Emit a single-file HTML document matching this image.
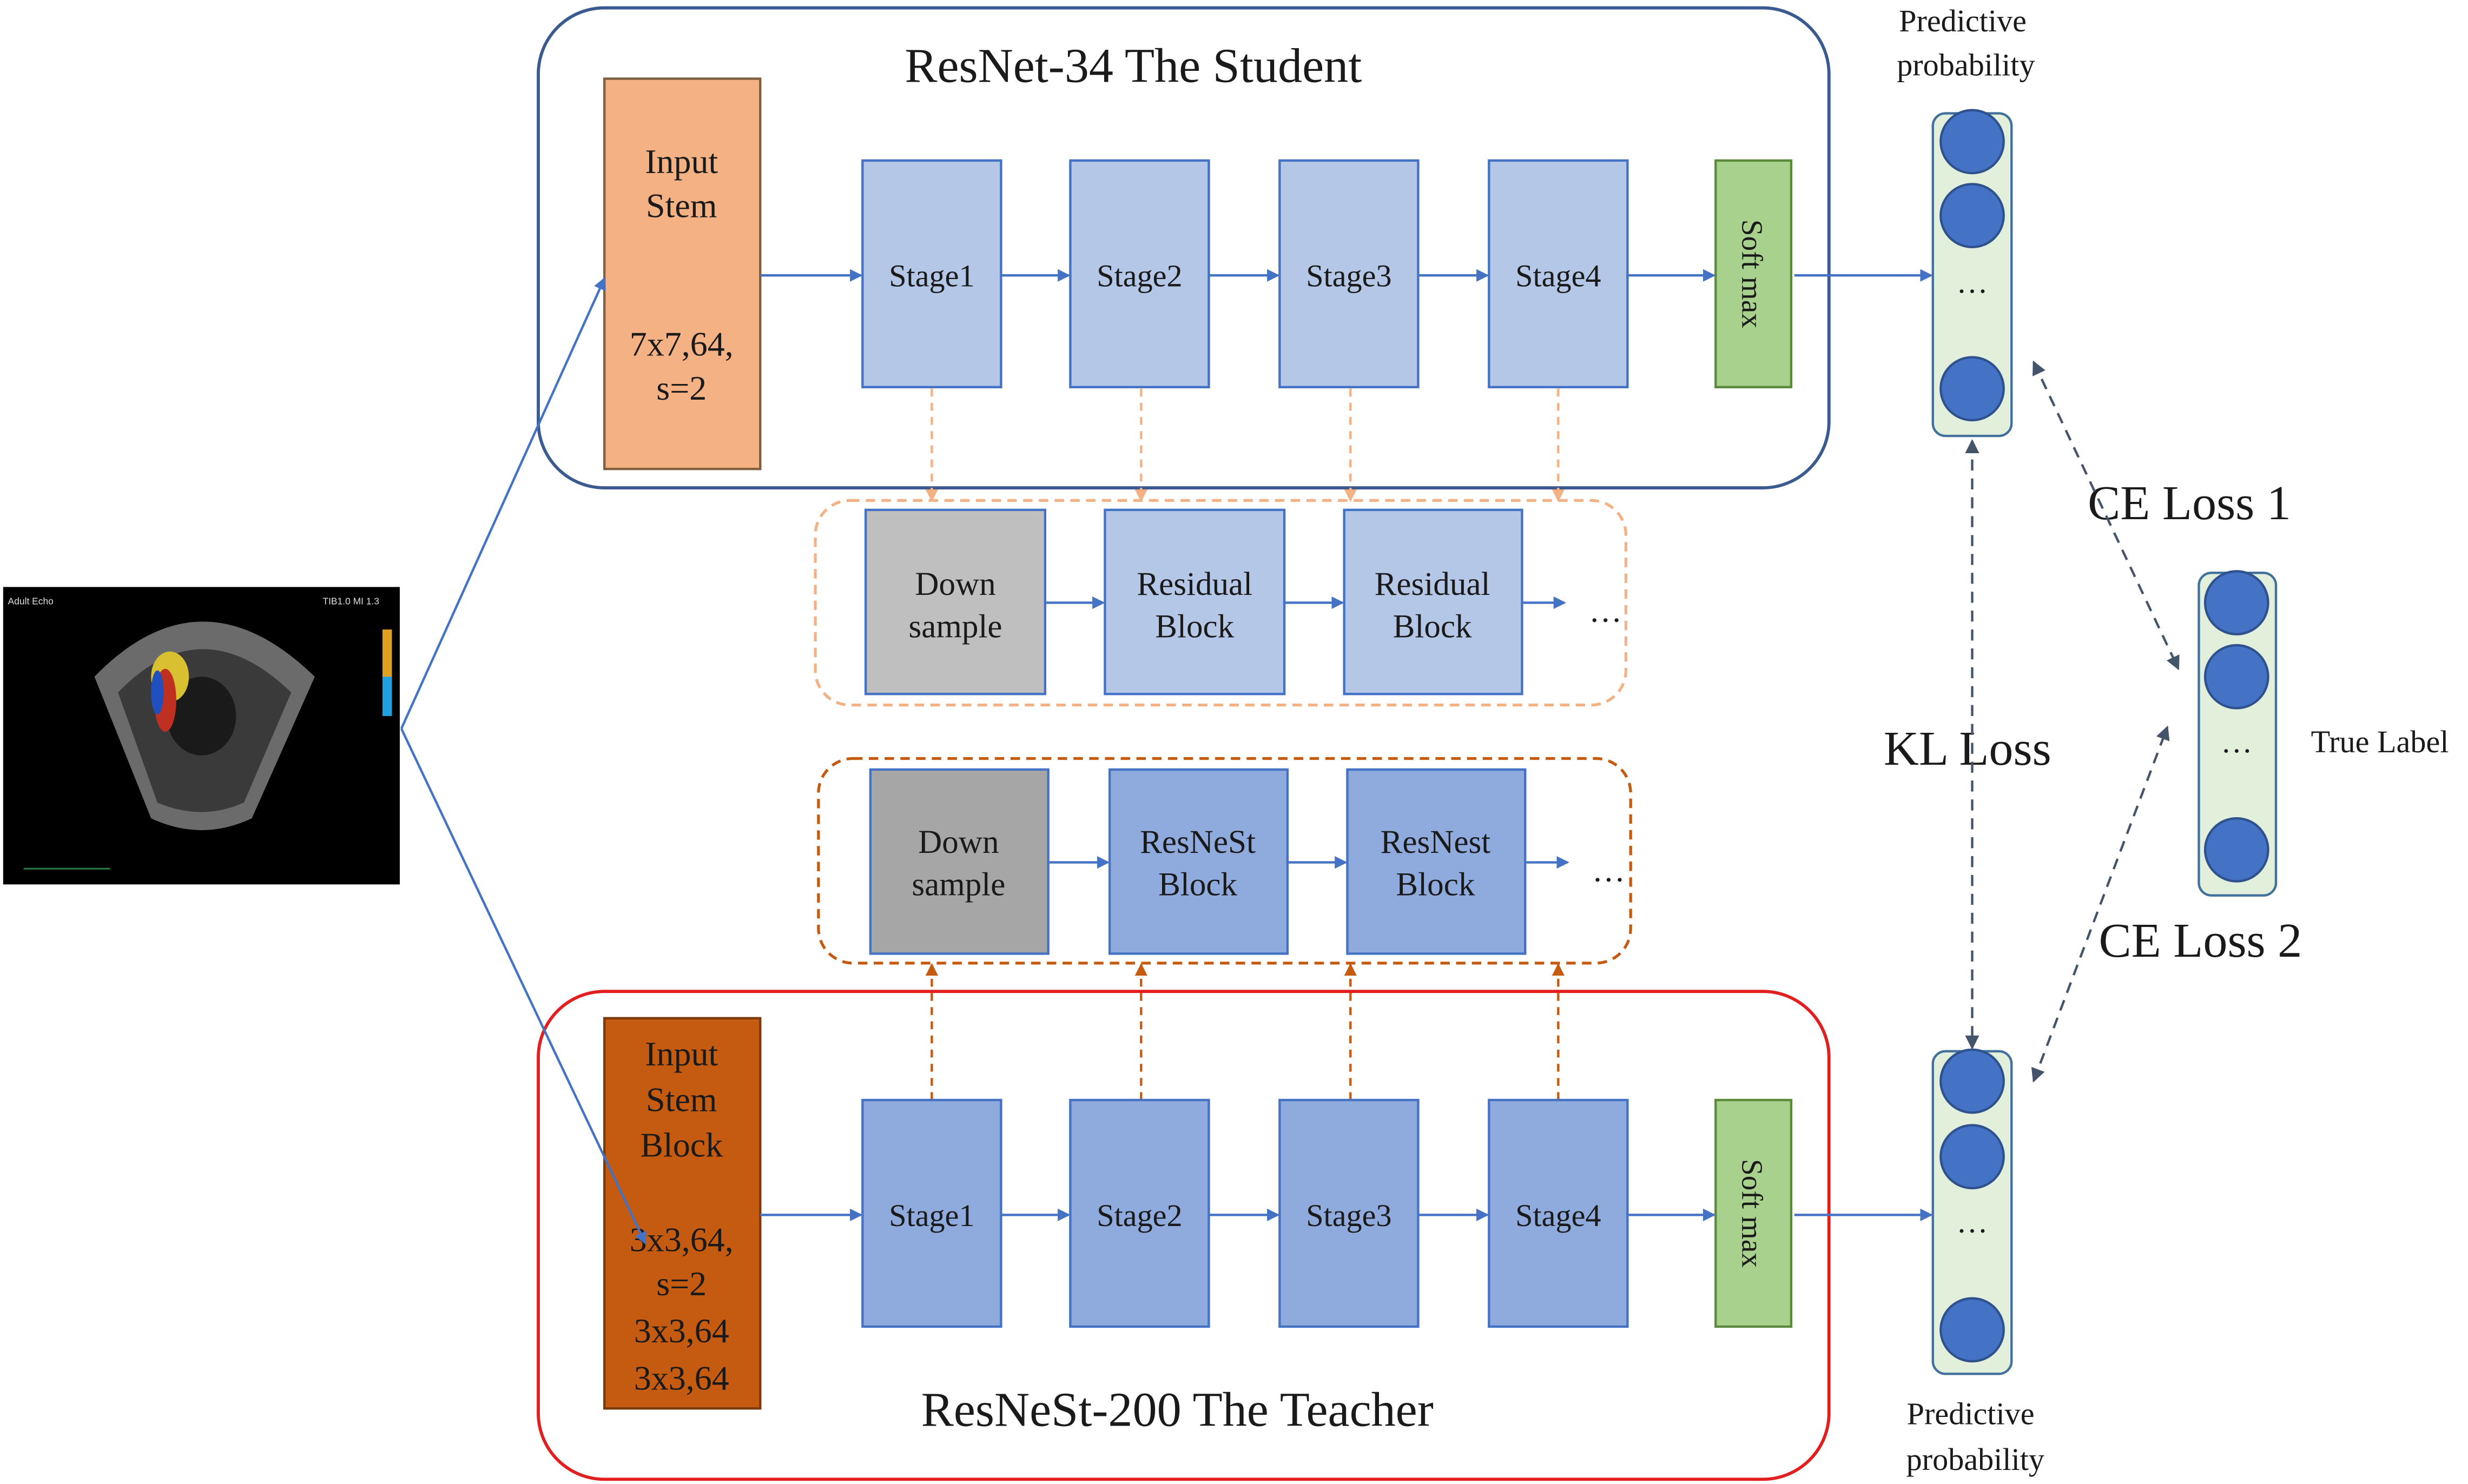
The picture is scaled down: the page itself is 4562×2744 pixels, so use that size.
<!DOCTYPE html>
<html><head><meta charset="utf-8"><style>
html,body{margin:0;padding:0;background:#fff;}
svg{display:block;}
text{font-family:"Liberation Serif",serif;fill:#1a1a1a;}
</style></head><body>
<svg width="4562" height="2744" viewBox="0 0 1568 943" preserveAspectRatio="none" xmlns="http://www.w3.org/2000/svg">
<defs>
<marker id="ab" markerWidth="8" markerHeight="8" refX="7" refY="4" orient="auto" markerUnits="userSpaceOnUse"><path d="M0,0 L8,4 L0,8 z" fill="#4472c4"/></marker>
<marker id="ao" markerWidth="8" markerHeight="8" refX="7" refY="4" orient="auto" markerUnits="userSpaceOnUse"><path d="M0,0 L8,4 L0,8 z" fill="#f4b183"/></marker>
<marker id="ad" markerWidth="8" markerHeight="8" refX="7" refY="4" orient="auto" markerUnits="userSpaceOnUse"><path d="M0,0 L8,4 L0,8 z" fill="#c55a11"/></marker>
<marker id="ag" markerWidth="9" markerHeight="9" refX="8" refY="4.5" orient="auto-start-reverse" markerUnits="userSpaceOnUse"><path d="M0,0 L9,4.5 L0,9 z" fill="#44546a"/></marker>
</defs>

<rect x="342" y="5" width="820" height="305" rx="42" fill="none" stroke="#3b5a8f" stroke-width="2"/>
<text x="720" y="52" font-size="31" text-anchor="middle">ResNet-34 The Student</text>
<rect x="384" y="50" width="99" height="248" fill="#f4b183" stroke="#7f5f3f" stroke-width="1.5"/>
<g font-size="22" text-anchor="middle">
<text x="433" y="110">Input</text><text x="433" y="138">Stem</text>
<text x="433" y="226">7x7,64,</text><text x="433" y="254">s=2</text>
</g>
<g fill="#b4c7e7" stroke="#4472c4" stroke-width="1.5">
<rect x="548" y="102" width="88" height="144"/><rect x="680" y="102" width="88" height="144"/>
<rect x="813" y="102" width="88" height="144"/><rect x="946" y="102" width="88" height="144"/>
</g>
<rect x="1090" y="102" width="48" height="144" fill="#a9d18e" stroke="#5b8a3c" stroke-width="1.5"/>
<g font-size="20" text-anchor="middle">
<text x="592" y="182">Stage1</text><text x="724" y="182">Stage2</text><text x="857" y="182">Stage3</text><text x="990" y="182">Stage4</text>
</g>
<text transform="translate(1107,174) rotate(90)" font-size="19" text-anchor="middle">Soft max</text>
<g stroke="#4472c4" stroke-width="1.5" marker-end="url(#ab)">
<line x1="483" y1="175" x2="547" y2="175"/><line x1="636" y1="175" x2="679" y2="175"/>
<line x1="768" y1="175" x2="812" y2="175"/><line x1="901" y1="175" x2="945" y2="175"/>
<line x1="1034" y1="175" x2="1089" y2="175"/><line x1="1140" y1="175" x2="1227" y2="175"/>
</g>
<g stroke="#f4b183" stroke-width="1.5" stroke-dasharray="5,4" marker-end="url(#ao)">
<line x1="592" y1="247" x2="592" y2="318"/><line x1="725" y1="247" x2="725" y2="318"/>
<line x1="858" y1="247" x2="858" y2="318"/><line x1="990" y1="247" x2="990" y2="318"/>
</g>
<rect x="518" y="318" width="515" height="130" rx="22" fill="none" stroke="#f4b183" stroke-width="1.8" stroke-dasharray="6,4"/>
<rect x="550" y="324" width="114" height="117" fill="#bfbfbf" stroke="#4472c4" stroke-width="1.5"/>
<rect x="702" y="324" width="114" height="117" fill="#b4c7e7" stroke="#4472c4" stroke-width="1.5"/>
<rect x="854" y="324" width="113" height="117" fill="#b4c7e7" stroke="#4472c4" stroke-width="1.5"/>
<g font-size="21" text-anchor="middle">
<text x="607" y="378">Down</text><text x="607" y="405">sample</text>
<text x="759" y="378">Residual</text><text x="759" y="405">Block</text>
<text x="910" y="378">Residual</text><text x="910" y="405">Block</text>
<text x="1020" y="395">…</text>
</g>
<g stroke="#4472c4" stroke-width="1.5" marker-end="url(#ab)">
<line x1="664" y1="383" x2="701" y2="383"/><line x1="816" y1="383" x2="853" y2="383"/><line x1="967" y1="383" x2="994" y2="383"/>
</g>
<rect x="520" y="482" width="516" height="130" rx="22" fill="none" stroke="#c55a11" stroke-width="1.8" stroke-dasharray="6,4"/>
<rect x="553" y="489" width="113" height="117" fill="#a6a6a6" stroke="#4472c4" stroke-width="1.5"/>
<rect x="705" y="489" width="113" height="117" fill="#8faadc" stroke="#4472c4" stroke-width="1.5"/>
<rect x="856" y="489" width="113" height="117" fill="#8faadc" stroke="#4472c4" stroke-width="1.5"/>
<g font-size="21" text-anchor="middle">
<text x="609" y="542">Down</text><text x="609" y="569">sample</text>
<text x="761" y="542">ResNeSt</text><text x="761" y="569">Block</text>
<text x="912" y="542">ResNest</text><text x="912" y="569">Block</text>
<text x="1022" y="560">…</text>
</g>
<g stroke="#4472c4" stroke-width="1.5" marker-end="url(#ab)">
<line x1="666" y1="548" x2="704" y2="548"/><line x1="818" y1="548" x2="855" y2="548"/><line x1="969" y1="548" x2="996" y2="548"/>
</g>
<g stroke="#c55a11" stroke-width="1.5" stroke-dasharray="5,4" marker-end="url(#ad)">
<line x1="592" y1="699" x2="592" y2="613"/><line x1="725" y1="699" x2="725" y2="613"/>
<line x1="858" y1="699" x2="858" y2="613"/><line x1="990" y1="699" x2="990" y2="613"/>
</g>
<rect x="342" y="630" width="820" height="310" rx="42" fill="none" stroke="#e31e1e" stroke-width="2"/>
<text x="748" y="906" font-size="31" text-anchor="middle">ResNeSt-200 The Teacher</text>
<rect x="384" y="647" width="99" height="248" fill="#c55a11" stroke="#7a3a0c" stroke-width="1.5"/>
<g font-size="22" text-anchor="middle">
<text x="433" y="677">Input</text><text x="433" y="706">Stem</text><text x="433" y="735">Block</text>
<text x="433" y="795">3x3,64,</text><text x="433" y="823">s=2</text>
<text x="433" y="853">3x3,64</text><text x="433" y="883">3x3,64</text>
</g>
<g fill="#8faadc" stroke="#4472c4" stroke-width="1.5">
<rect x="548" y="699" width="88" height="144"/><rect x="680" y="699" width="88" height="144"/>
<rect x="813" y="699" width="88" height="144"/><rect x="946" y="699" width="88" height="144"/>
</g>
<rect x="1090" y="699" width="48" height="144" fill="#a9d18e" stroke="#5b8a3c" stroke-width="1.5"/>
<g font-size="20" text-anchor="middle">
<text x="592" y="779">Stage1</text><text x="724" y="779">Stage2</text><text x="857" y="779">Stage3</text><text x="990" y="779">Stage4</text>
</g>
<text transform="translate(1107,771) rotate(90)" font-size="19" text-anchor="middle">Soft max</text>
<g stroke="#4472c4" stroke-width="1.5" marker-end="url(#ab)">
<line x1="483" y1="772" x2="547" y2="772"/><line x1="636" y1="772" x2="679" y2="772"/>
<line x1="768" y1="772" x2="812" y2="772"/><line x1="901" y1="772" x2="945" y2="772"/>
<line x1="1034" y1="772" x2="1089" y2="772"/><line x1="1140" y1="772" x2="1227" y2="772"/>
</g>
<g fill="#e2efda" stroke="#41719c" stroke-width="1.5">
<rect x="1228" y="72" width="50" height="205" rx="8"/>
<rect x="1228" y="668" width="50" height="205" rx="8"/>
<rect x="1397" y="364" width="49" height="205" rx="8"/>
</g>
<g fill="#4472c4" stroke="#2f528f" stroke-width="1.5">
<circle cx="1253" cy="90" r="20"/><circle cx="1253" cy="137" r="20"/><circle cx="1253" cy="247" r="20"/>
<circle cx="1253" cy="687" r="20"/><circle cx="1253" cy="735" r="20"/><circle cx="1253" cy="845" r="20"/>
<circle cx="1421" cy="383" r="20"/><circle cx="1421" cy="430" r="20"/><circle cx="1421" cy="540" r="20"/>
</g>
<g font-size="20" text-anchor="middle">
<text x="1253" y="186">…</text><text x="1253" y="783">…</text><text x="1421" y="478">…</text>
<text x="1247" y="20">Predictive</text><text x="1249" y="48">probability</text>
<text x="1252" y="905">Predictive</text><text x="1255" y="934">probability</text>
<text x="1512" y="478">True Label</text>
</g>
<g font-size="31" text-anchor="middle">
<text x="1250" y="486">KL Loss</text>
<text x="1391" y="330">CE Loss 1</text>
<text x="1398" y="608">CE Loss 2</text>
</g>
<g stroke="#44546a" stroke-width="1.5" stroke-dasharray="7,5" marker-start="url(#ag)" marker-end="url(#ag)">
<line x1="1253" y1="280" x2="1253" y2="666"/>
<line x1="1292" y1="230" x2="1384" y2="425"/>
<line x1="1292" y1="687" x2="1377" y2="462"/>
</g>
<rect x="2" y="373" width="252" height="189" fill="#000"/>
<path d="M60,430 Q128,360 200,430 L160,520 Q128,535 96,520 Z" fill="#6b6b6b"/>
<path d="M75,440 Q128,385 185,440 L155,510 Q128,522 100,510 Z" fill="#3a3a3a"/>
<ellipse cx="128" cy="455" rx="22" ry="25" fill="#1a1a1a"/>
<ellipse cx="108" cy="430" rx="12" ry="16" fill="#d8c030"/>
<ellipse cx="105" cy="445" rx="7" ry="20" fill="#c03020"/>
<ellipse cx="100" cy="440" rx="4" ry="14" fill="#2050c0"/>
<rect x="243" y="400" width="6" height="55" fill="#e0a020"/>
<rect x="243" y="430" width="6" height="25" fill="#20a0e0"/>
<text x="5" y="384" font-size="6" style="fill:#ddd;font-family:'Liberation Sans',sans-serif">Adult Echo</text>
<text x="205" y="384" font-size="6" style="fill:#ddd;font-family:'Liberation Sans',sans-serif">TIB1.0 MI 1.3</text>
<line x1="15" y1="552" x2="70" y2="552" stroke="#2a7a4a" stroke-width="1"/>
<g stroke="#4472c4" stroke-width="1.5" marker-end="url(#ab)">
<line x1="255" y1="463" x2="384" y2="177"/>
<line x1="255" y1="463" x2="410" y2="790"/>
</g>
</svg>
</body></html>
